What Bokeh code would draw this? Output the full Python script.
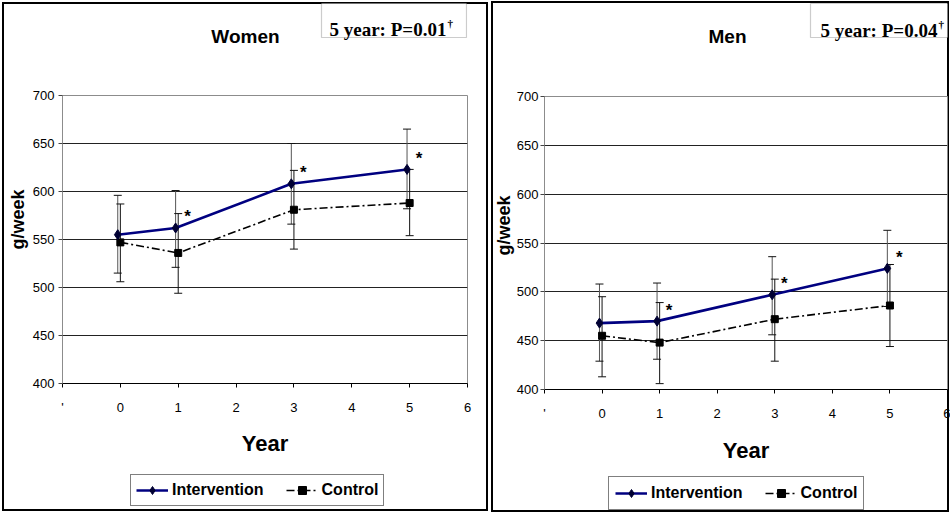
from bokeh.plotting import figure
from bokeh.models import (ColumnDataSource, Whisker, TeeHead, Label, Legend, LegendItem,
                          BoxAnnotation, FixedTicker)
from bokeh.layouts import row, column
from bokeh.embed import file_html
from bokeh.resources import INLINE
from bokeh.core.properties import value

# ---------------- data ----------------
years = [0, 1, 3, 5]
women_int = [555, 562, 608, 623]
women_int_lo = [515, 521, 566, 582]
women_int_hi = [596, 601, 650, 665]
women_ctl = [547, 536, 581, 588]
women_ctl_lo = [506, 494, 540, 554]
women_ctl_hi = [587, 577, 622, 623]
men_int = [468, 470, 497, 524]
men_int_lo = [429, 431, 456, 485]
men_int_hi = [508, 509, 536, 563]
men_ctl = [455, 448, 472, 486]
men_ctl_lo = [413, 406, 429, 444]
men_ctl_hi = [495, 489, 513, 528]
significant = ["", "*", "*", "*"]
x_ticks = [-1, 0, 1, 2, 3, 4, 5, 6]
y_ticks = [400, 450, 500, 550, 600, 650, 700]
titles = ["Women", "Men"]
p_texts = ["5 year: P=0.01", "5 year: P=0.04"]
series_names = ["Intervention", "Control"]
y_label = "g/week"
x_label = "Year"

SANS = "Liberation Sans, Arial, sans-serif"
SERIF = "Liberation Serif, Times New Roman, serif"
NAVY = "#000080"
NBSP = "\u00a0"
NAN = float("nan")


def blank_fig(w, h):
    f = figure(width=w, height=h, x_range=(0, 1), y_range=(0, 1),
               x_axis_type=None, y_axis_type=None, output_backend="svg",
               toolbar_location=None, min_border=0)
    f.outline_line_color = None
    f.grid.visible = False
    f.border_fill_alpha = 0
    f.background_fill_alpha = 0
    return f


def make_panel(title, ptext, iv, iv_lo, iv_hi, cv, cv_lo, cv_hi, g):
    W = g["w"]
    fl = g["bl"]  # frame left: the strips share the main chart's frame edges

    # ---------- top strip: title + p-value box ----------
    top = blank_fig(W, g["top_h"])
    th = g["top_h"]

    def tsx(cx):
        return cx - fl

    def tsy(cy):
        return th - cy

    top.add_layout(Label(x=tsx(g["t_x"]), y=tsy(g["t_y"]), x_units="screen",
                         y_units="screen", text=title, text_font=SANS,
                         text_font_size="19px", text_font_style="bold", text_align="center",
                         text_baseline="middle", text_color="black"))
    bx0, by0, bx1, by1 = g["pbox"]
    top.add_layout(BoxAnnotation(left=tsx(bx0), right=tsx(bx1), top=tsy(by0),
                                 bottom=tsy(by1),
                                 left_units="screen", right_units="screen",
                                 top_units="screen", bottom_units="screen",
                                 fill_color="white", fill_alpha=1,
                                 line_color="#555555", line_width=1.2))
    top.add_layout(Label(x=tsx(g["p_x"]), y=tsy(g["p_base"]), x_units="screen",
                         y_units="screen", text=ptext, text_font=SERIF,
                         text_font_size="19px", text_font_style="bold", text_align="left",
                         text_baseline="alphabetic", text_color="black"))
    top.add_layout(Label(x=tsx(g["dag_x"]), y=tsy(g["p_base"] - 7), x_units="screen",
                         y_units="screen", text="\u2020", text_font=SERIF,
                         text_font_size="11px", text_font_style="bold", text_align="left",
                         text_baseline="alphabetic", text_color="black"))

    # ---------- main chart ----------
    p = figure(width=W, height=g["main_h"], x_range=(x_ticks[0], x_ticks[-1]),
               y_range=(y_ticks[0], y_ticks[-1]), output_backend="svg",
               toolbar_location=None, min_border_left=g["bl"], min_border_right=g["br"],
               min_border_top=g["bt"], min_border_bottom=g["bb"])
    p.border_fill_alpha = 0
    p.outline_line_color = "#8c8c8c"
    p.xgrid.visible = False
    p.ygrid.ticker = FixedTicker(ticks=y_ticks)
    p.ygrid.grid_line_color = "#222222"
    p.ygrid.grid_line_width = 1

    p.xaxis.ticker = FixedTicker(ticks=x_ticks)
    p.xaxis.major_label_overrides = {-1: "'"}
    p.yaxis.ticker = FixedTicker(ticks=y_ticks)
    for ax in (p.xaxis[0], p.yaxis[0]):
        ax.minor_tick_line_color = None
        ax.major_tick_in = 0
        ax.major_tick_out = 4
        ax.major_label_text_font = SANS
        ax.major_label_text_font_size = "13px"
        ax.major_label_text_color = "black"
        ax.axis_label_text_font = SANS
        ax.axis_label_text_font_style = "bold"
        ax.axis_label_text_color = "black"
    p.xaxis.axis_line_color = "black"
    p.xaxis.major_tick_line_color = "black"
    p.xaxis.major_label_standoff = 12
    p.xaxis.axis_label = x_label
    p.xaxis.axis_label_text_font_size = "22px"
    p.xaxis.axis_label_standoff = g["xl_standoff"]
    p.yaxis.axis_line_color = "#8c8c8c"
    p.yaxis.major_tick_line_color = "#444444"
    p.yaxis.major_label_standoff = g["yt_standoff"]
    p.yaxis.axis_label = NBSP * g["yl_pad"] + y_label
    p.yaxis.axis_label_text_font_size = "18px"
    p.yaxis.axis_label_standoff = g["yl_standoff"]

    xi = [x - 0.045 for x in years]
    isrc = ColumnDataSource(dict(x=xi, y=iv, lo=iv_lo, hi=iv_hi, s=significant))
    csrc = ColumnDataSource(dict(x=years, y=cv, lo=cv_lo, hi=cv_hi))

    for src, col in ((isrc, "#555555"), (csrc, "#111111")):
        p.add_layout(Whisker(source=src, base="x", upper="hi", lower="lo",
                             line_color=col, line_width=1,
                             upper_head=TeeHead(size=8, line_color="#111111", line_width=1),
                             lower_head=TeeHead(size=8, line_color="#111111", line_width=1)))

    ctl_line = dict(line_color="black", line_width=1.6, line_dash="8 3 2 3")
    ctl_mark = dict(marker="square", size=7, fill_color="black", line_color="black")
    int_line = dict(line_color=NAVY, line_width=2.6)
    int_mark = dict(marker="diamond", size=10, fill_color="#000033", line_color="#000033")

    p.line("x", "y", source=csrc, **ctl_line)
    p.scatter("x", "y", source=csrc, **ctl_mark)
    p.line("x", "y", source=isrc, **int_line)
    p.scatter("x", "y", source=isrc, **int_mark)
    p.text("x", "y", text="s", source=isrc, x_offset=12, y_offset=-11,
           text_font=value(SANS), text_font_size="17px", text_font_style="bold",
           text_align="center", text_baseline="middle", text_color="black")

    # ---------- legend strip (proxy renderers carry no visible data) ----------
    leg = blank_fig(W, g["leg_h"])
    proxy = dict(x=[NAN], y=[NAN])
    il = leg.line(x="x", y="y", source=ColumnDataSource(proxy), **int_line)
    im = leg.scatter(x="x", y="y", source=ColumnDataSource(proxy), **int_mark)
    cl = leg.line(x="x", y="y", source=ColumnDataSource(proxy), **ctl_line)
    cm = leg.scatter(x="x", y="y", source=ColumnDataSource(proxy), **ctl_mark)
    lx, ly = g["lg_pos"]
    legend = Legend(items=[LegendItem(label=series_names[0], renderers=[il, im]),
                           LegendItem(label=series_names[1], renderers=[cl, cm])],
                    orientation="horizontal", location=(lx - fl, g["leg_h"] - ly),
                    label_text_font=SANS, label_text_font_size="16px",
                    label_text_font_style="bold", label_text_color="black",
                    label_standoff=4, glyph_width=32, glyph_height=20, label_height=20,
                    spacing=22, padding=g["lg_pad"], margin=0,
                    border_line_color="black", border_line_width=1,
                    background_fill_color="white", background_fill_alpha=1)
    leg.add_layout(legend, "center")

    col = column(top, p, leg, spacing=0)
    col.styles = g["css"]
    return col


# geometry (pixels inside each panel; strips are top 0..top_h, legend strip bottom part)
g_women = dict(w=490, top_h=60, main_h=405, leg_h=48,
               bl=62, br=23, bt=35, bb=82, xl_standoff=13, yt_standoff=4, yl_standoff=2,
               yl_pad=8,
               t_x=245, t_y=36, pbox=(321, 3, 466, 37), p_x=329, p_base=29, dag_x=447,
               lg_pos=(130, 41), lg_pad=5,
               css={"outline": "2px solid black", "outline-offset": "-4px"})
g_men = dict(w=460, top_h=60, main_h=407, leg_h=46,
             bl=54, br=3, bt=36, bb=78, xl_standoff=14, yt_standoff=2, yl_standoff=0,
             yl_pad=7,
             t_x=237, t_y=36, pbox=(320, 3, 470, 37), p_x=330, p_base=30, dag_x=448,
             lg_pos=(118, 43), lg_pad=6,
             css={"outline": "2px solid black", "outline-offset": "-3px"})

c1 = make_panel(titles[0], p_texts[0], women_int, women_int_lo, women_int_hi,
                women_ctl, women_ctl_lo, women_ctl_hi, g_women)
c2 = make_panel(titles[1], p_texts[1], men_int, men_int_lo, men_int_hi,
                men_ctl, men_ctl_lo, men_ctl_hi, g_men)

layout = row(c1, c2, spacing=0)
open("out.html", "w").write(file_html(layout, INLINE))
